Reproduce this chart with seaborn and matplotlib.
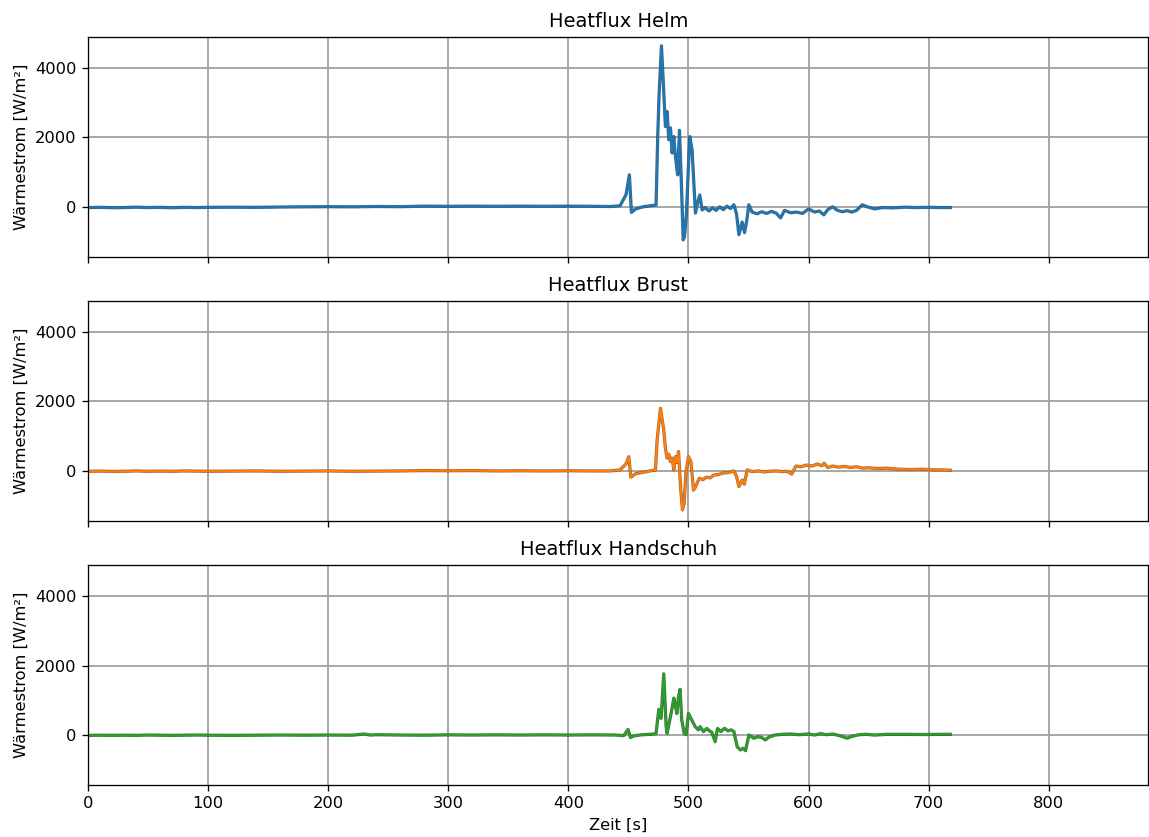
import matplotlib
matplotlib.use('Agg')
import matplotlib.pyplot as plt
import matplotlib.patheffects as pe
import seaborn as sns
import pandas as pd

# heat flux readings
helm_t = [0, 10, 20, 30, 40, 50, 60, 70, 80, 90, 100, 120, 140, 160, 180, 200, 220, 240, 260, 280,
          300, 320, 340, 360, 380, 400, 420, 435, 443, 448, 450.8, 452.5, 456, 462, 468, 473, 474.4,
          475.5, 477.5, 479, 480.8, 482.2, 483.6, 485, 486.4, 487.8, 489, 491, 492.5, 494, 495.6,
          496.7, 498.3, 500, 501.1, 503, 505.8, 507.5, 509.4, 511.4, 514, 517, 520, 523, 526, 529,
          532, 535, 537.8, 540, 542, 544.7, 546.7, 548.5, 550.3, 553, 557, 561, 565, 569, 573, 576.7,
          580, 585, 590, 595, 600, 605, 609, 612.7, 616, 620, 624, 628, 632, 636, 640, 644.7, 649,
          655, 662, 670, 680, 690, 700, 710, 718]
helm_q = [-20, -15, -25, -20, -10, -20, -15, -25, -15, -20, -15, -10, -15, -5, 0, 5, 0, 10, 5, 20,
          15, 20, 15, 20, 15, 20, 15, 10, 30, 350, 920, -160, -60, 0, 30, 50, 2020,
          3200, 4630, 3600, 2310, 2740, 1930, 2270, 1550, 2020, 1500, 920, 2200, 780, -950,
          -860, -180, 1200, 2020, 1640, -180, 100, 340, -90, -20, -120, -30, -100, 0, -80,
          20, -50, 60, -200, -800, -440, -740, -400, 60, -150, -200, -140, -190, -130, -180, -320,
          -100, -170, -150, -190, -60, -150, -120, -230, -80, 0, -100, -140, -110, -150, -100, 60, 0,
          -60, -20, -30, -10, -20, -15, -20, -20]

brust_t = [0, 10, 20, 30, 40, 50, 60, 70, 80, 90, 100, 120, 140, 160, 180, 200, 220, 240, 260, 280,
           300, 320, 340, 360, 380, 400, 420, 435, 443, 448, 450.3, 452, 456, 462, 468, 472.5, 473.9,
           476.7, 478, 479.4, 480.8, 482.2, 483.6, 485, 486.4, 487.8, 489.2, 490.5, 491.7, 493.6, 495,
           496.4, 497.8, 500, 502, 504.2, 506, 509, 512, 515, 518, 521, 525, 529, 533, 537.8, 540,
           542, 544.7, 546.5, 548.9, 553, 558, 563, 568, 573, 578, 582, 586, 589.4, 594, 598, 603,
           607, 611, 613, 616, 620, 625, 630, 635, 640, 645, 650, 658, 665, 675, 685, 695, 705, 712, 718]
brust_q = [-10, -5, -15, -10, 0, -10, -5, -10, 0, -5, -10, -5, 0, -10, -5, 0, -10, -5, 0, 10,
           5, 10, 0, 5, 0, 5, 0, 0, 30, 200, 410, -180, -80, -40, 0, 30, 890,
           1800, 1500, 1180, 650, 370, 480, 270, 370, 30, 410, 250, 560, -550, -1120,
           -930, -70, 410, 270, -550, -450, -210, -250, -180, -200, -120, -100, -60, -50, 0, -150,
           -450, -260, -380, 30, -20, 0, -30, -10, 0, -20, -10, -90, 140, 120, 170, 140,
           200, 150, 220, 100, 140, 110, 130, 100, 120, 80, 90, 70, 80, 50, 40, 50, 30, 30, 20]

hand_t = [0, 10, 20, 30, 40, 50, 60, 70, 80, 90, 100, 120, 140, 160, 180, 200, 220, 230, 235, 240,
          260, 280, 300, 320, 340, 360, 380, 400, 420, 440, 446, 449.7, 451.7, 455, 462, 468, 473,
          475.3, 477.2, 479.4, 481.4, 482.2, 485, 487.8, 489, 490.3, 491.7, 493, 494.4, 496.4, 498,
          500, 502.8, 505.6, 508.3, 509.7, 512.5, 515.3, 517.5, 519.4, 522.2, 524.2, 527, 530, 533,
          535.5, 537.8, 540.6, 543.3, 545.5, 547.5, 550.3, 554.4, 558, 561, 564, 567, 572, 578, 585,
          592, 600, 605, 610, 615, 620, 626, 632, 636, 642, 648, 655, 665, 680, 695, 710, 718]
hand_q = [-10, -5, -10, -5, -10, 0, -5, -10, -5, 0, -5, -10, -5, 0, -5, 0, -5, 30, 0, 10,
          0, -5, 5, 0, 5, 0, 5, 0, 5, 0, -20, 160, -70, -20, 10, 20, 40,
          740, 480, 1760, 240, 50, 530, 1060, 860, 620, 1100, 1315, 430, 50, 10,
          620, 430, 240, 150, 240, 100, 190, 120, 80, -190, 190, 100, 190, 120,
          150, 100, -340, -430, -380, -450, 0, -90, -50, -70, -140, -60, 0, 20, 30,
          10, 30, 0, 40, 10, 30, -20, -90, -40, 10, 20, 0, 20, 20, 15, 20, 20]

titles = ['Heatflux Helm', 'Heatflux Brust', 'Heatflux Handschuh']
colors = ['#1f77b4', '#ff7f0e', '#2ca02c']
edges = ['#1a4f78', '#9a5010', '#1d5f1d']

series = [(helm_t, helm_q), (brust_t, brust_q), (hand_t, hand_q)]

# original was rendered at a higher dpi, so fonts come out bigger
fig, axes = plt.subplots(3, 1, figsize=(1149 / 117, 837 / 117), dpi=117, sharex=True, sharey=True)
fig.subplots_adjust(left=0.0766, right=0.9995, top=0.956, bottom=0.062, hspace=0.2)

for ax, (t, q), title, c, ec in zip(axes, series, titles, colors, edges):
    df = pd.DataFrame({'Zeit': t, 'Q': q})
    sns.lineplot(data=df, x='Zeit', y='Q', ax=ax, color=c, lw=1.2,
                 path_effects=[pe.Stroke(linewidth=2.0, foreground=ec, alpha=0.85), pe.Normal()])
    ax.set_title(title)
    ax.set_ylabel('Wärmestrom [W/m²]')
    ax.set_xlabel('')
    ax.grid(True, color='#a0a0a0', lw=1.1)
    ax.set_axisbelow(True)

axes[0].set_xlim(0, 883)
axes[0].set_ylim(-1440, 4890)
axes[0].set_yticks([0, 2000, 4000])
axes[2].set_xlabel('Zeit [s]')

plt.savefig('out.png', dpi=117)
